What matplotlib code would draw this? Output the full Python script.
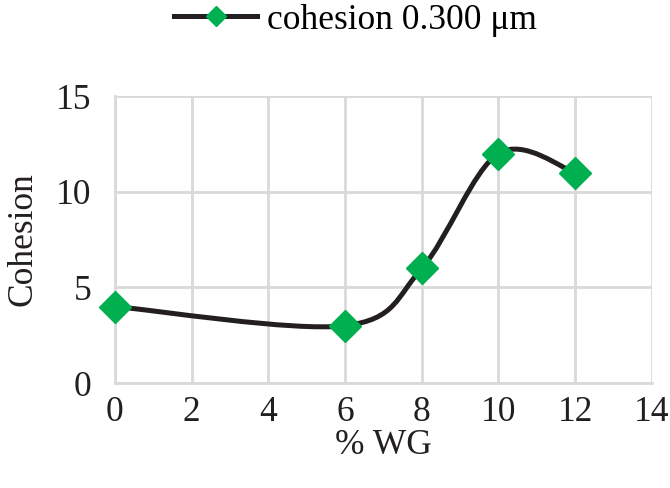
import numpy as np
import matplotlib.pyplot as plt
from matplotlib.path import Path
from matplotlib.patches import PathPatch
from matplotlib.lines import Line2D

wg = [0, 6, 8, 10, 12]
cohesion = [4, 3, 6, 12, 11]
xticks = [0, 2, 4, 6, 8, 10, 12, 14]
yticks = [0, 5, 10, 15]

plt.rcParams['font.family'] = ['Liberation Serif', 'DejaVu Serif']

fig = plt.figure(figsize=(6.7, 4.88), dpi=100)
ax = fig.add_axes([0.1716, 0.215, 0.8014, 0.588])
ax.set_xlim(0, 14)
ax.set_ylim(0, 15)


def smooth_path(ax, xs, ys):
    # excel style smoothing: bezier with control points from neighbours, in screen space
    pts = ax.transData.transform(np.column_stack([xs, ys]))
    n = len(pts)
    verts = [pts[0]]
    codes = [Path.MOVETO]
    for i in range(n - 1):
        p0 = pts[i - 1] if i > 0 else pts[i]
        p1 = pts[i]
        p2 = pts[i + 1]
        p3 = pts[i + 2] if i + 2 < n else pts[i + 1]
        c1 = p1 + (p2 - p0) / 6.0
        c2 = p2 - (p3 - p1) / 6.0
        verts += [c1, c2, p2]
        codes += [Path.CURVE4] * 3
    verts = ax.transData.inverted().transform(np.array(verts))
    return Path(verts, codes)


line_color = '#231f20'
green = '#00b050'
fs = 25.5
ax.add_patch(PathPatch(smooth_path(ax, wg, cohesion), facecolor='none',
                       edgecolor=line_color, lw=3.6, capstyle='round', zorder=3,
                       clip_on=False))
ax.plot(wg, cohesion, linestyle='none', marker='D', markersize=16,
        color=green, markeredgecolor=green, zorder=4, clip_on=False)

ax.set_xticks(xticks)
ax.set_yticks(yticks)
ax.grid(True, color='#d9d9d9', lw=2)
for s in ax.spines.values():
    s.set_visible(False)
for side in ['left', 'bottom']:
    ax.spines[side].set_visible(True)
    ax.spines[side].set_color('#d9d9d9')
    ax.spines[side].set_linewidth(2)
ax.tick_params(length=0, labelsize=fs, colors='#231f20')
ax.tick_params(axis='x', pad=9)
ax.tick_params(axis='y', pad=17)
ax.set_axisbelow(True)
ax.set_xlabel('% WG', fontsize=fs, color='#231f20', labelpad=0)
ax.set_ylabel('Cohesion', fontsize=fs, color='#231f20', labelpad=12)

handle = Line2D([], [], color=line_color, lw=3.6, marker='D', markersize=10.5,
                markerfacecolor=green, markeredgecolor=green)
fig.legend([handle], ['cohesion 0.300 μm'], loc='center',
           bbox_to_anchor=(0.531, 0.959), frameon=False, fontsize=fs,
           handlelength=2.35, handletextpad=0.28, borderpad=0, borderaxespad=0)

fig.savefig('out.png', dpi=100)
